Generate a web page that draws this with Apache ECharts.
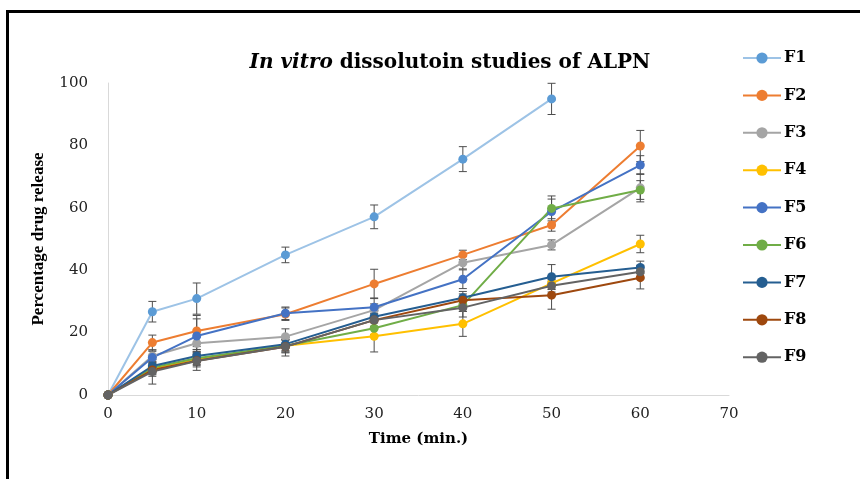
<!DOCTYPE html>
<html>
<head>
<meta charset="utf-8">
<script src="https://cdn.jsdelivr.net/npm/echarts@6/dist/echarts.min.js"></script>
<style>
  html, body { margin: 0; padding: 0; background: #fff; }
  #chart { width: 860px; height: 479px; }
</style>
</head>
<body>
<div id="chart"></div>
<script>
// time points (min.)
const times = [0, 5, 10, 20, 30, 40, 50, 60];

// percentage drug release per formulation (F1 stops at 50 min)
const names = ["F1", "F2", "F3", "F4", "F5", "F6", "F7", "F8", "F9"];
const F1 = [0, 26.7, 30.9, 44.9, 57.1, 75.6, 94.9];
const F2 = [0, 16.8, 20.5, 25.9, 35.6, 44.9, 54.5, 79.8];
const F3 = [0, 12.5, 16.6, 18.7, 27.2, 42.4, 48.1, 66.4];
const F4 = [0, 8.5, 11.5, 15.8, 18.8, 22.8, 35.8, 48.4];
const F5 = [0, 12.0, 18.9, 26.2, 28.1, 37.1, 58.8, 73.7];
const F6 = [0, 8.8, 11.8, 15.8, 21.4, 28.8, 59.8, 65.7];
const F7 = [0, 9.3, 12.5, 16.3, 25.1, 31.2, 37.9, 40.9];
const F8 = [0, 8.0, 11.0, 15.5, 24.0, 30.4, 32.0, 37.6];
const F9 = [0, 7.5, 10.9, 15.5, 24.0, 28.0, 35.0, 39.5];

// error bar half-widths
const E1 = [0, 3.3, 5.0, 2.5, 3.8, 4.0, 5.0];
const E2 = [0, 2.4, 5.0, 2.0, 4.7, 1.5, 2.0, 5.0];
const E3 = [0, 2.0, 2.0, 2.5, 2.0, 2.0, 1.6, 4.5];
const E4 = [0, 2.0, 2.0, 2.0, 5.0, 4.0, 2.0, 2.8];
const E5 = [0, 2.0, 5.5, 2.0, 3.0, 3.0, 4.0, 3.0];
const E6 = [0, 2.0, 2.0, 2.0, 2.0, 2.0, 4.0, 3.0];
const E7 = [0, 2.0, 2.0, 2.0, 2.0, 2.0, 3.9, 2.0];
const E8 = [0, 2.0, 2.0, 2.0, 2.0, 2.0, 4.5, 3.6];
const E9 = [0, 4.0, 3.0, 3.0, 2.0, 3.0, 2.0, 2.0];

const values = [F1, F2, F3, F4, F5, F6, F7, F8, F9];
const errors = [E1, E2, E3, E4, E5, E6, E7, E8, E9];

const lineColors = ["#9DC3E6", "#ED7D31", "#A5A5A5", "#FFC000", "#4472C4", "#70AD47", "#255E91", "#9E480E", "#636363"];
const dotColors = ["#5B9BD5", "#ED7D31", "#A5A5A5", "#FFC000", "#4472C4", "#70AD47", "#255E91", "#9E480E", "#636363"];

const xTicks = [0, 10, 20, 30, 40, 50, 60, 70];
const yTicks = [0, 20, 40, 60, 80, 100];

const serif = "'Liberation Serif', 'DejaVu Serif', serif";
const wide = "'DejaVu Serif', 'Liberation Serif', serif";

const series = [];
values.forEach((vals, i) => {
  const pts = vals.map((v, k) => [times[k], v]);
  series.push({
    name: names[i],
    type: "line",
    data: pts,
    symbol: "circle",
    symbolSize: 9,
    z: 3,
    lineStyle: { width: 2, color: lineColors[i] },
    itemStyle: { color: dotColors[i] },
    emphasis: { disabled: true },
    animation: false
  });
  series.push({
    name: names[i] + " err",
    type: "custom",
    data: vals.map((v, k) => [times[k], v, errors[i][k]]),
    z: 2,
    silent: true,
    animation: false,
    renderItem: function (params, api) {
      const x = api.value(0), y = api.value(1), e = api.value(2);
      if (!e) return null;
      const top = api.coord([x, y + e]);
      const bot = api.coord([x, y - e]);
      const hw = 4;
      const st = { stroke: "#4d4d4d", lineWidth: 1 };
      return {
        type: "group",
        children: [
          { type: "line", shape: { x1: top[0], y1: top[1], x2: bot[0], y2: bot[1] }, style: st },
          { type: "line", shape: { x1: top[0] - hw, y1: top[1], x2: top[0] + hw, y2: top[1] }, style: st },
          { type: "line", shape: { x1: bot[0] - hw, y1: bot[1], x2: bot[0] + hw, y2: bot[1] }, style: st }
        ]
      };
    }
  });
});

const chart = echarts.init(document.getElementById("chart"), null, { renderer: "canvas" });

chart.setOption({
  backgroundColor: "#fff",
  animation: false,
  graphic: [{
    type: "rect",
    shape: { x: 7.5, y: 11.5, width: 1000, height: 1000 },
    style: { fill: "none", stroke: "#000", lineWidth: 3 },
    silent: true
  }],
  title: {
    text: "{i|In vitro} dissolutoin studies of ALPN",
    left: 445,
    top: 48,
    textAlign: "center",
    textStyle: {
      fontFamily: wide,
      fontWeight: "bold",
      fontSize: 20,
      color: "#000",
      rich: {
        i: { fontFamily: wide, fontWeight: "bold", fontStyle: "italic", fontSize: 20, color: "#000" }
      }
    }
  },
  legend: {
    orient: "vertical",
    left: 737,
    top: 45,
    itemWidth: 38,
    itemHeight: 14,
    itemGap: 21.4,
    data: names,
    textStyle: { fontFamily: wide, fontWeight: "bold", fontSize: 16, color: "#000", padding: [0, 0, 0, -2] }
  },
  grid: { left: 108, right: 131, top: 83, bottom: 84 },
  xAxis: {
    type: "value",
    min: xTicks[0],
    max: xTicks[xTicks.length - 1],
    interval: 10,
    name: "Time (min.)",
    nameLocation: "middle",
    nameGap: 37,
    nameTextStyle: { fontFamily: wide, fontWeight: "bold", fontSize: 15, color: "#000" },
    axisLine: { lineStyle: { color: "#D9D9D9", width: 1 } },
    axisTick: { show: false },
    splitLine: { show: false },
    axisLabel: { fontFamily: wide, fontSize: 15, color: "#222", margin: 12 }
  },
  yAxis: {
    type: "value",
    min: yTicks[0],
    max: yTicks[yTicks.length - 1],
    interval: 20,
    name: "Percentage drug release",
    nameLocation: "middle",
    nameGap: 61,
    nameRotate: 90,
    nameTextStyle: { fontFamily: serif, fontWeight: "bold", fontSize: 17, color: "#000" },
    axisLine: { show: true, lineStyle: { color: "#D9D9D9", width: 1 } },
    axisTick: { show: false },
    splitLine: { show: false },
    axisLabel: { fontFamily: wide, fontSize: 15, color: "#222", margin: 20 }
  },
  series: series
});
</script>
</body>
</html>
